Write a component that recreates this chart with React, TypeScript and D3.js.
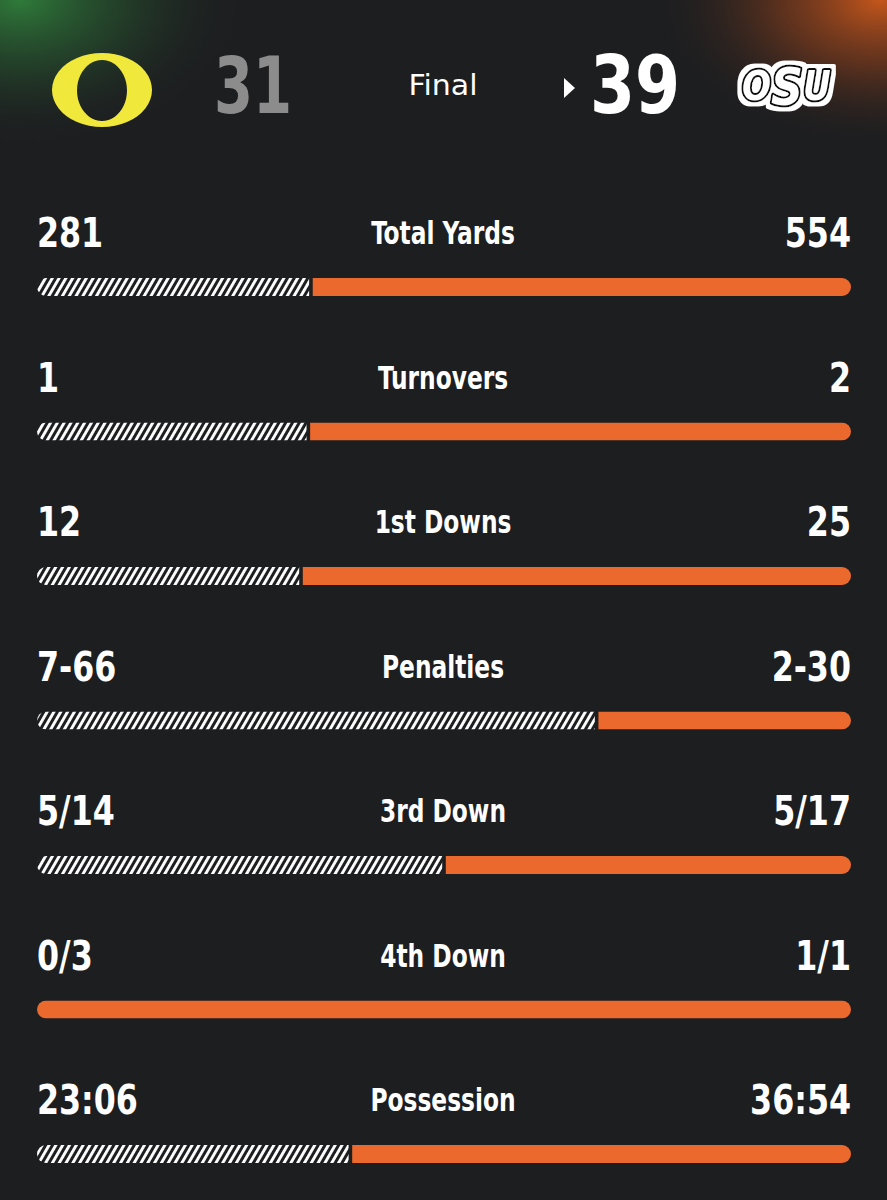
import React from "react";
import * as d3 from "d3";

const statLabels = ["Total Yards", "Turnovers", "1st Downs", "Penalties", "3rd Down", "4th Down", "Possession"];
const awayDisplay = ["281", "1", "12", "7-66", "5/14", "0/3", "23:06"];
const homeDisplay = ["554", "2", "25", "2-30", "5/17", "1/1", "36:54"];
const awayBarValue = [281, 1, 12, 66, 5, 0, 1386];
const homeBarValue = [554, 2, 25, 30, 5, 1, 2214];
const awayScore = "31";
const homeScore = "39";
const gameStatus = "Final";

const W = 887;
const H = 1200;
const BG = "#1d1e20";
const ORANGE = "#ec692d";
const FONT = "'DejaVu Sans Condensed', 'DejaVu Sans', sans-serif";

type CTextProps = {
  x: number;
  y: number;
  sx: number;
  size: number;
  weight?: number;
  fill?: string;
  anchor?: "start" | "middle" | "end";
  children: React.ReactNode;
};

function CText({ x, y, sx, size, weight = 700, fill = "#fff", anchor = "start", children }: CTextProps) {
  return (
    <g transform={`translate(${x},${y}) scale(${sx},1)`}>
      <text x={0} y={0} fill={fill} fontFamily={FONT} fontWeight={weight} fontSize={size} textAnchor={anchor}>
        {children}
      </text>
    </g>
  );
}

export default function App() {
  const rowY = d3.scaleLinear().domain([0, statLabels.length - 1]).range([247, 1114]);
  const barX = d3.scaleLinear().domain([0, 1]).range([37, 851]);
  const barH = 18;
  const gap = 1.8;

  return (
    <svg width={W} height={H} style={{ position: "absolute", left: 0, top: 0, display: "block" }} xmlns="http://www.w3.org/2000/svg">
      <defs>
        <radialGradient id="gGreen" cx="0" cy="0" r="1" gradientUnits="userSpaceOnUse" gradientTransform="translate(20,0) scale(230,150)">
          <stop offset="0" stopColor="#2f7a3a" stopOpacity="1" />
          <stop offset="0.45" stopColor="#27572f" stopOpacity="0.55" />
          <stop offset="1" stopColor={BG} stopOpacity="0" />
        </radialGradient>
        <radialGradient id="gOrange" cx="0" cy="0" r="1" gradientUnits="userSpaceOnUse" gradientTransform="translate(880,0) scale(230,150)">
          <stop offset="0" stopColor="#c4561c" stopOpacity="1" />
          <stop offset="0.45" stopColor="#8a3f1c" stopOpacity="0.55" />
          <stop offset="1" stopColor={BG} stopOpacity="0" />
        </radialGradient>
        <pattern id="hatch" patternUnits="userSpaceOnUse" width="5.9" height="10" patternTransform="rotate(30)">
          <rect x="0" y="0" width="5.9" height="10" fill={BG} />
          <rect x="0" y="0" width="2.9" height="10" fill="#ffffff" />
        </pattern>
        <filter id="whiteOutline" x="-20%" y="-30%" width="140%" height="160%">
          <feMorphology in="SourceAlpha" operator="dilate" radius="4" result="dil" />
          <feFlood floodColor="#ffffff" result="white" />
          <feComposite in="white" in2="dil" operator="in" result="outline" />
          <feMerge>
            <feMergeNode in="outline" />
            <feMergeNode in="SourceGraphic" />
          </feMerge>
        </filter>
      </defs>
      <rect x={0} y={0} width={W} height={H} fill={BG} />
      <rect x={0} y={0} width={W} height={200} fill="url(#gGreen)" />
      <rect x={0} y={0} width={W} height={200} fill="url(#gOrange)" />

      {/* Oregon O */}
      <path
        d="M102,53 a50,37 0 1,0 0.01,0 Z M102,60 a25,30.5 0 1,0 0.01,0 Z"
        fill="#f1e83c"
        fillRule="evenodd"
      />
      <CText x={214} y={113} sx={0.8} size={78} fill="#8c8c8c">{awayScore}</CText>
      <CText x={443} y={95} sx={1.15} size={29} weight={400} anchor="middle">{gameStatus}</CText>
      <path d="M564,78 L575,88 L564,98 Z" fill="#ffffff" />
      <CText x={590} y={113} sx={0.9} size={80}>{homeScore}</CText>

      {/* OSU logo approximation */}
      <g filter="url(#whiteOutline)" transform="translate(742,100) scale(0.95,1)">
        <text
          x={0}
          y={0}
          fontFamily={FONT}
          fontWeight={700}
          fontStyle="italic"
          fill="#ffffff"
          stroke="#111111"
          strokeWidth={4}
          strokeLinejoin="round"
          style={{ paintOrder: "stroke" }}
        >
          <tspan fontSize={40}>O</tspan>
          <tspan fontSize={52} dy={5}>S</tspan>
          <tspan fontSize={40} dy={-5}>U</tspan>
        </text>
      </g>

      {statLabels.map((label, i) => {
        const y = rowY(i);
        const by = y + 31;
        const total = awayBarValue[i] + homeBarValue[i];
        const share = total > 0 ? awayBarValue[i] / total : 0;
        const split = barX(share);
        const x0 = barX(0);
        const x1 = barX(1);
        const clipId = `clip${i}`;
        return (
          <g key={label}>
            <CText x={37} y={y} sx={0.86} size={41}>{awayDisplay[i]}</CText>
            <CText x={443} y={y - 3} sx={0.81} size={32} anchor="middle">{label}</CText>
            <CText x={851} y={y} sx={0.86} size={41} anchor="end">{homeDisplay[i]}</CText>
            <clipPath id={clipId}>
              <rect x={x0} y={by} width={x1 - x0} height={barH} rx={barH / 2} ry={barH / 2} />
            </clipPath>
            <g clipPath={`url(#${clipId})`}>
              {share > 0 && (
                <rect x={x0} y={by} width={Math.max(0, split - gap - x0)} height={barH} fill="url(#hatch)" />
              )}
              <rect
                x={share > 0 ? split + gap : x0}
                y={by}
                width={share > 0 ? x1 - split - gap : x1 - x0}
                height={barH}
                fill={ORANGE}
              />
            </g>
          </g>
        );
      })}
    </svg>
  );
}
